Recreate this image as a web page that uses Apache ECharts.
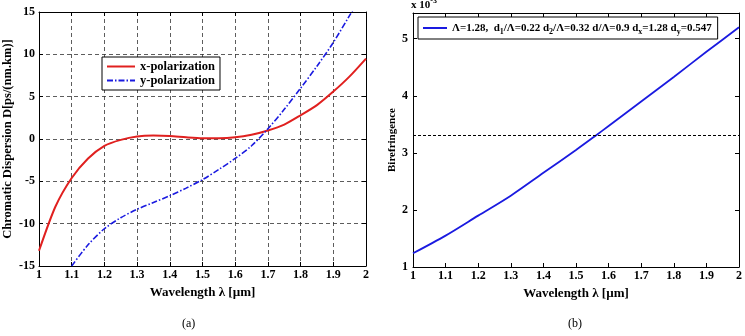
<!DOCTYPE html>
<html>
<head>
<meta charset="utf-8">
<script src="https://cdn.jsdelivr.net/npm/echarts@6/dist/echarts.min.js"></script>
<style>
  html, body { margin: 0; padding: 0; background: #fff; }
  #chart { width: 745px; height: 336px; }
</style>
</head>
<body>
<div id="chart"></div>
<script>
  // (a) chromatic dispersion
  const wavelengthA = [1.0, 1.05, 1.1, 1.15, 1.2, 1.25, 1.3, 1.35, 1.4, 1.45, 1.5, 1.55, 1.6, 1.65, 1.7, 1.75, 1.8, 1.85, 1.9, 1.95, 2.0]
  const xPolarization = [-13.2, -8.0, -4.6, -2.3, -0.8, -0.1, 0.3, 0.4, 0.35, 0.2, 0.1, 0.1, 0.2, 0.5, 1.0, 1.7, 2.8, 4.0, 5.6, 7.4, 9.5]
  const yPolarization = [null, null, -15.0, -12.5, -10.6, -9.3, -8.3, -7.5, -6.7, -5.8, -4.8, -3.6, -2.3, -0.8, 1.2, 3.5, 6.0, 8.6, 11.4, 14.6, 17.8]
  // (b) birefringence (x 10^-3)
  const wavelengthB = [1.0, 1.1, 1.2, 1.3, 1.4, 1.5, 1.56, 1.6, 1.7, 1.8, 1.9, 2.0]
  const birefringence = [1.24, 1.55, 1.9, 2.25, 2.65, 3.05, 3.3, 3.47, 3.9, 4.33, 4.77, 5.2]
  const refLevel = 3.3
  const legendB = 'Λ=1.28,  d1/Λ=0.22 d2/Λ=0.32 d/Λ=0.9 dx=1.28 dy=0.547'

  const font = 'Liberation Serif, Times New Roman, serif'
  const txt = { fontFamily: font, fontWeight: 'bold', fontSize: 12, color: '#000' }
  const frameLine = { show: true, onZero: false, lineStyle: { color: '#000', width: 1 } }
  const tickIn = { show: true, inside: true, length: 4, lineStyle: { color: '#000' } }
  const dashGrid = { show: true, lineStyle: { color: '#333', type: [4, 3], width: 0.8 } }
  const noIcon = { color: 'rgba(0,0,0,0)', borderColor: 'rgba(0,0,0,0)', borderWidth: 0, opacity: 0 }

  const xBase = (grid, pos, showLabel, split) => ({
    type: 'value', gridIndex: grid, position: pos, min: 1, max: 2, interval: 0.1,
    axisLine: frameLine, axisTick: tickIn,
    axisLabel: { show: showLabel, margin: 3, ...txt, formatter: v => +v.toFixed(1) + '' },
    splitLine: split ? dashGrid : { show: false },
  })

  const chart = echarts.init(document.getElementById('chart'))
  chart.setOption({
    animation: false,
    grid: [
      { left: 39, top: 12, width: 327, height: 254 },
      { left: 413, top: 13, width: 326, height: 254 },
    ],
    xAxis: [
      { ...xBase(0, 'bottom', true, true), name: 'Wavelength λ [µm]', nameLocation: 'middle', nameGap: 17, nameTextStyle: { ...txt, fontSize: 13 } },
      xBase(0, 'top', false, false),
      { ...xBase(1, 'bottom', true, false), name: 'Wavelength λ [µm]', nameLocation: 'middle', nameGap: 17, nameTextStyle: { ...txt, fontSize: 13 } },
      xBase(1, 'top', false, false),
    ],
    yAxis: [
      {
        type: 'value', gridIndex: 0, position: 'left', min: -15, max: 15, interval: 5,
        name: 'Chromatic Dispersion D[ps/(nm.km)]', nameLocation: 'middle', nameGap: 25, nameTextStyle: { ...txt, fontSize: 12.5 },
        axisLine: frameLine, axisTick: tickIn, axisLabel: { margin: 4, ...txt }, splitLine: dashGrid,
      },
      { type: 'value', gridIndex: 0, position: 'right', min: -15, max: 15, interval: 5, axisLine: frameLine, axisTick: tickIn, axisLabel: { show: false }, splitLine: { show: false } },
      {
        type: 'value', gridIndex: 1, position: 'left', min: 1, max: 5.45, interval: 1,
        name: 'Birefringence', nameLocation: 'middle', nameGap: 14, nameTextStyle: { ...txt, fontSize: 11 },
        axisLine: frameLine, axisTick: tickIn, axisLabel: { margin: 5, ...txt, showMaxLabel: false }, splitLine: { show: false },
      },
      { type: 'value', gridIndex: 1, position: 'right', min: 1, max: 5.45, interval: 1, axisLine: frameLine, axisTick: tickIn, axisLabel: { show: false }, splitLine: { show: false } },
    ],
    legend: [
      {
        data: ['x-polarization', 'y-polarization'], orient: 'vertical', left: 102, top: 57,
        padding: [3, 5, 3, 4], itemGap: 1, itemWidth: 28, itemHeight: 14, itemStyle: noIcon,
        backgroundColor: '#fff', borderColor: '#000', borderWidth: 1, borderRadius: 0,
        textStyle: { ...txt, fontSize: 12.5 },
      },
      {
        data: [legendB], left: 418, top: 17, padding: [3, 6, 3, 4], itemWidth: 24, itemHeight: 12, itemGap: 2,
        itemStyle: noIcon,
        backgroundColor: '#fff', borderColor: '#000', borderWidth: 1, borderRadius: 0,
        formatter: () => '{t|Λ=1.28,  d}{s|1}{t|/Λ=0.22 d}{s|2}{t|/Λ=0.32 d/Λ=0.9 d}{s|x}{t|=1.28 d}{s|y}{t|=0.547}',
        textStyle: {
          ...txt,
          rich: {
            t: { ...txt, fontSize: 11, lineHeight: 16, verticalAlign: 'middle' },
            s: { ...txt, fontSize: 8, lineHeight: 16, padding: [8, 0, 0, 0], verticalAlign: 'middle' },
          },
        },
      },
    ],
    graphic: [
      { type: 'text', left: 411, top: -3, style: { rich: { b: { ...txt, fontSize: 11 }, e: { ...txt, fontSize: 8, padding: [0, 0, 8, 0] } }, text: '{b|x 10}{e|-3}' } },
      { type: 'text', left: 182, top: 318, style: { text: '(a)', fontFamily: font, fontSize: 12, fill: '#000' } },
      { type: 'text', left: 568, top: 318, style: { text: '(b)', fontFamily: font, fontSize: 12, fill: '#000' } },
    ],
    series: [
      {
        name: 'x-polarization', type: 'line', xAxisIndex: 0, yAxisIndex: 0, smooth: 0.25, symbol: 'none',
        color: '#e0201f', lineStyle: { width: 2 },
        data: wavelengthA.map((x, i) => [x, xPolarization[i]]),
      },
      {
        name: 'y-polarization', type: 'line', xAxisIndex: 0, yAxisIndex: 0, smooth: 0.3, symbol: 'none', clip: true,
        color: '#1a1ae0', lineStyle: { width: 1.6, type: [6, 2, 1.5, 2] },
        data: wavelengthA.map((x, i) => [x, yPolarization[i]]).filter(p => p[1] !== null),
      },
      {
        name: legendB, type: 'line', xAxisIndex: 2, yAxisIndex: 2, smooth: 0.3, symbol: 'none',
        color: '#1a1ae0', lineStyle: { width: 1.8 },
        data: wavelengthB.map((x, i) => [x, birefringence[i]]),
        markLine: {
          symbol: 'none', silent: true, label: { show: false },
          lineStyle: { color: '#000', type: [3, 2], width: 1 },
          data: [{ yAxis: refLevel }],
        },
      },
    ],
  })
</script>
</body>
</html>
